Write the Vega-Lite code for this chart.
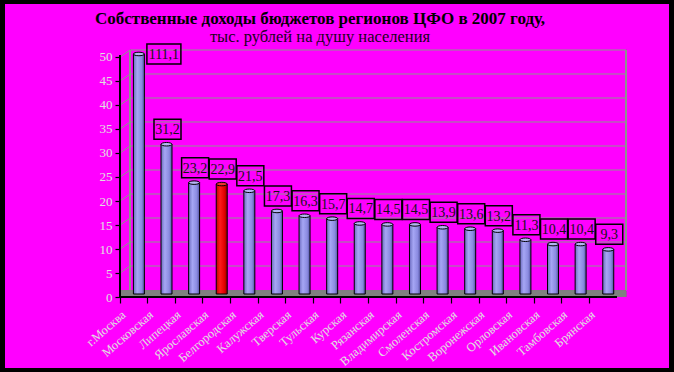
{
  "$schema": "https://vega.github.io/schema/vega-lite/v6.json",
  "width": 664,
  "height": 364,
  "autosize": "none",
  "padding": {"left": 5, "top": 4, "right": 5, "bottom": 4},
  "background": "#000000",
  "config": {
    "view": {"fill": "#ff00ff", "stroke": null},
    "locale": {"number": {"decimal": ",", "thousands": " ", "grouping": [3], "currency": ["", ""]}},
    "font": "Liberation Serif"
  },
  "title": {
    "text": "Собственные доходы бюджетов регионов ЦФО в 2007 году,",
    "subtitle": "тыс. рублей на душу населения",
    "anchor": "middle",
    "frame": "group",
    "dx": -17,
    "offset": -42,
    "font": "Liberation Serif",
    "fontSize": 17,
    "fontWeight": "bold",
    "color": "#000000",
    "subtitleFont": "Liberation Serif",
    "subtitleFontSize": 16.5,
    "subtitleColor": "#1a001a",
    "subtitlePadding": 1
  },
  "datasets": {
    "main": [
      {"region": "г.Москва", "value": 111.1},
      {"region": "Московская", "value": 31.2},
      {"region": "Липецкая", "value": 23.2},
      {"region": "Ярославская", "value": 22.9},
      {"region": "Белгородская", "value": 21.5},
      {"region": "Калужская", "value": 17.3},
      {"region": "Тверская", "value": 16.3},
      {"region": "Тульская", "value": 15.7},
      {"region": "Курская", "value": 14.7},
      {"region": "Рязанская", "value": 14.5},
      {"region": "Владимирская", "value": 14.5},
      {"region": "Смоленская", "value": 13.9},
      {"region": "Костромская", "value": 13.6},
      {"region": "Воронежская", "value": 13.2},
      {"region": "Орловская", "value": 11.3},
      {"region": "Ивановская", "value": 10.4},
      {"region": "Тамбовская", "value": 10.4},
      {"region": "Брянская", "value": 9.3}
    ],
    "grid": [
      {"v": 5}, {"v": 10}, {"v": 15}, {"v": 20}, {"v": 25},
      {"v": 30}, {"v": 35}, {"v": 40}, {"v": 45}, {"v": 50}
    ]
  },
  "data": {"name": "main"},
  "layer": [
    {
      "mark": {"type": "rect", "color": "#808080", "x2Offset": 9},
      "encoding": {
        "x": {"datum": "г.Москва", "type": "nominal", "bandPosition": 0,
          "scale": {"type": "band", "domain": ["г.Москва","Московская","Липецкая","Ярославская","Белгородская","Калужская","Тверская","Тульская","Курская","Рязанская","Владимирская","Смоленская","Костромская","Воронежская","Орловская","Ивановская","Тамбовская","Брянская"], "range": [115.09, 612.05], "paddingInner": 0, "paddingOuter": 0},
          "axis": {"bandPosition": 0, "offset": -71, "domain": false, "grid": false, "ticks": true, "tickColor": "#000000", "tickSize": 6, "tickWidth": 1.2,
            "labelAngle": -41, "labelFont": "Liberation Serif", "labelFontSize": 12.5, "labelColor": "#e0e0e0", "labelPadding": 5, "labelOffset": -14, "labelOverlap": false, "title": null}},
        "x2": {"datum": "Брянская", "bandPosition": 1},
        "y": {"datum": 0, "type": "quantitative", "scale": {"domain": [-14.79, 61.04], "nice": false, "zero": false},
          "axis": {"values": [0, 5, 10, 15, 20, 25, 30, 35, 40, 45, 50], "tickCount": 11, "offset": -115, "domain": false, "grid": false, "tickColor": "#000000", "tickSize": 5, "tickWidth": 1.2,
            "labelFont": "Liberation Serif", "labelFontSize": 13, "labelColor": "#e0e0e0", "labelPadding": 3, "labelOverlap": false, "title": null}},
        "y2": {"datum": 1.3}
      }
    },
    {
      "data": {"name": "grid"},
      "mark": {"type": "rule", "color": "#8c968c", "strokeWidth": 1, "xOffset": 10, "x2Offset": 9, "yOffset": -7},
      "encoding": {
        "x": {"datum": "г.Москва", "type": "nominal", "bandPosition": 0},
        "x2": {"datum": "Брянская", "bandPosition": 1},
        "y": {"field": "v", "type": "quantitative", "title": null}
      }
    },
    {
      "data": {"name": "grid"},
      "mark": {"type": "rule", "color": "#8c968c", "strokeWidth": 1, "x2Offset": 10, "y2Offset": -7},
      "encoding": {
        "x": {"datum": "г.Москва", "type": "nominal", "bandPosition": 0},
        "x2": {"datum": "г.Москва", "bandPosition": 0},
        "y": {"field": "v", "type": "quantitative", "title": null},
        "y2": {"field": "v"}
      }
    },
    {
      "mark": {"type": "rule", "color": "#8c968c", "strokeWidth": 1, "xOffset": 10, "yOffset": -7, "y2Offset": -7},
      "encoding": {
        "x": {"datum": "г.Москва", "type": "nominal", "bandPosition": 0},
        "y": {"datum": 0, "type": "quantitative"},
        "y2": {"datum": 50}
      }
    },
    {
      "mark": {"type": "rule", "color": "#8c968c", "strokeWidth": 1, "xOffset": 9, "yOffset": -7, "y2Offset": -7},
      "encoding": {
        "x": {"datum": "Брянская", "type": "nominal", "bandPosition": 1},
        "y": {"datum": 0, "type": "quantitative"},
        "y2": {"datum": 50}
      }
    },
    {
      "mark": {"type": "rule", "color": "#000000", "strokeWidth": 1.2},
      "encoding": {
        "x": {"datum": "г.Москва", "type": "nominal", "bandPosition": 0},
        "y": {"datum": 0, "type": "quantitative"},
        "y2": {"datum": 50.4}
      }
    },
    {
      "mark": {"type": "rule", "color": "#000000", "strokeWidth": 1.2},
      "encoding": {
        "x": {"datum": "г.Москва", "type": "nominal", "bandPosition": 0},
        "x2": {"datum": "Брянская", "bandPosition": 1},
        "y": {"datum": 0, "type": "quantitative"}
      }
    },
    {
      "transform": [{"filter": "datum.value <= 50 && datum.region !== 'Ярославская'"}],
      "mark": {"type": "bar", "size": 11, "xOffset": 5, "yOffset": -3, "y2Offset": -3, "stroke": "#000000", "strokeWidth": 1,
        "color": {"gradient": "linear", "x1": 0, "x2": 1, "y1": 0, "y2": 0,
          "stops": [{"offset": 0, "color": "#6c6cc0"}, {"offset": 0.35, "color": "#a6a6f4"}, {"offset": 0.75, "color": "#8a8ae0"}, {"offset": 1, "color": "#5050a0"}]}},
      "encoding": {
        "x": {"field": "region", "type": "nominal", "title": null},
        "y": {"field": "value", "type": "quantitative", "title": null},
        "y2": {"datum": 0}
      }
    },
    {
      "transform": [{"filter": "datum.region === 'Ярославская'"}],
      "mark": {"type": "bar", "size": 11, "xOffset": 5, "yOffset": -3, "y2Offset": -3, "stroke": "#000000", "strokeWidth": 1,
        "color": {"gradient": "linear", "x1": 0, "x2": 1, "y1": 0, "y2": 0,
          "stops": [{"offset": 0, "color": "#c00000"}, {"offset": 0.35, "color": "#ff1a1a"}, {"offset": 0.75, "color": "#e00000"}, {"offset": 1, "color": "#900000"}]}},
      "encoding": {
        "x": {"field": "region", "type": "nominal"},
        "y": {"field": "value", "type": "quantitative"},
        "y2": {"datum": 0}
      }
    },
    {
      "transform": [{"filter": "datum.value > 50"}],
      "mark": {"type": "bar", "size": 11, "xOffset": 5, "yOffset": -3, "y2Offset": -3, "stroke": "#000000", "strokeWidth": 1,
        "color": {"gradient": "linear", "x1": 0, "x2": 1, "y1": 0, "y2": 0,
          "stops": [{"offset": 0, "color": "#6c6cc0"}, {"offset": 0.35, "color": "#a6a6f4"}, {"offset": 0.75, "color": "#8a8ae0"}, {"offset": 1, "color": "#5050a0"}]}},
      "encoding": {
        "x": {"field": "region", "type": "nominal"},
        "y": {"datum": 50, "type": "quantitative"},
        "y2": {"datum": 0}
      }
    },
    {
      "transform": [{"filter": "datum.value <= 50"}],
      "mark": {"type": "point", "shape": "M-1,0A1,0.32,0,1,1,1,0A1,0.32,0,1,1,-1,0Z", "size": 121, "filled": true, "stroke": "#000000", "strokeWidth": 1, "xOffset": 5, "yOffset": -3, "opacity": 1},
      "encoding": {
        "x": {"field": "region", "type": "nominal"},
        "y": {"field": "value", "type": "quantitative"},
        "fill": {"condition": {"test": "datum.region === 'Ярославская'", "value": "#f03030"}, "value": "#b4b4f4"}
      }
    },
    {
      "transform": [{"filter": "datum.value > 50"}],
      "mark": {"type": "point", "shape": "M-1,0A1,0.32,0,1,1,1,0A1,0.32,0,1,1,-1,0Z", "size": 121, "filled": true, "fill": "#b4b4f4", "stroke": "#000000", "strokeWidth": 1, "xOffset": 5, "yOffset": -3, "opacity": 1},
      "encoding": {
        "x": {"field": "region", "type": "nominal"},
        "y": {"datum": 50, "type": "quantitative"}
      }
    },
    {
      "transform": [{"filter": "datum.value <= 50"}],
      "mark": {"type": "point", "shape": "M-1,-0.74H1V0.74H-1Z", "size": 729, "filled": false, "stroke": "#000000", "strokeWidth": 1.5, "xOffset": 6, "yOffset": -18, "opacity": 1},
      "encoding": {
        "x": {"field": "region", "type": "nominal"},
        "y": {"field": "value", "type": "quantitative"}
      }
    },
    {
      "transform": [{"filter": "datum.value <= 50"}],
      "mark": {"type": "text", "font": "Liberation Serif", "fontSize": 14, "color": "#141414", "align": "center", "baseline": "middle", "xOffset": 6, "yOffset": -17},
      "encoding": {
        "x": {"field": "region", "type": "nominal"},
        "y": {"field": "value", "type": "quantitative"},
        "text": {"field": "value", "type": "quantitative", "format": ".1f"}
      }
    },
    {
      "transform": [{"filter": "datum.value > 50"}],
      "mark": {"type": "point", "shape": "M-1,-0.59H1V0.59H-1Z", "size": 1156, "filled": false, "stroke": "#000000", "strokeWidth": 1.5, "xOffset": 30, "yOffset": -3, "opacity": 1},
      "encoding": {
        "x": {"field": "region", "type": "nominal"},
        "y": {"datum": 50, "type": "quantitative"}
      }
    },
    {
      "transform": [{"filter": "datum.value > 50"}],
      "mark": {"type": "text", "font": "Liberation Serif", "fontSize": 14, "color": "#141414", "align": "center", "baseline": "middle", "xOffset": 30, "yOffset": -2},
      "encoding": {
        "x": {"field": "region", "type": "nominal"},
        "y": {"datum": 50, "type": "quantitative"},
        "text": {"field": "value", "type": "quantitative", "format": ".1f"}
      }
    }
  ]
}
